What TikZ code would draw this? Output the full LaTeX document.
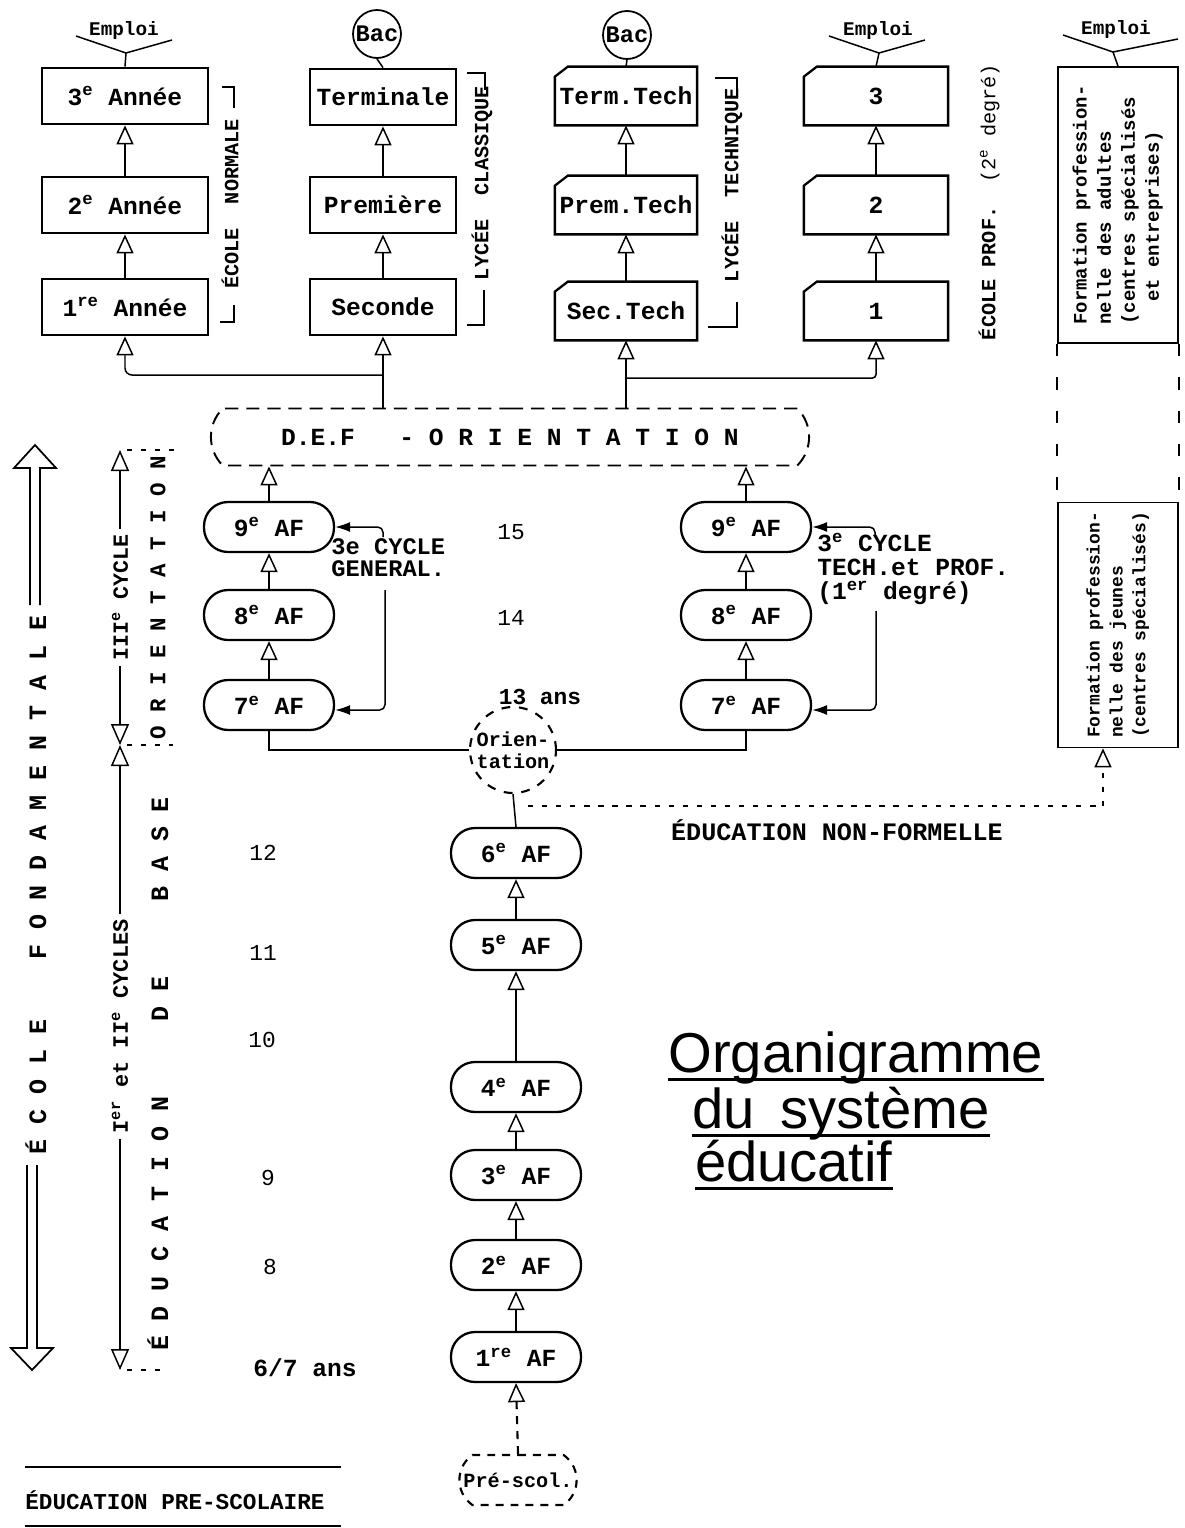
\documentclass[tikz,border=0pt]{standalone}
\usepackage{fontspec}
\setmainfont{Liberation Mono}
\newfontfamily\titlefont{Liberation Sans}
\usepackage{graphicx}
\usetikzlibrary{arrows.meta,shapes.misc,shapes.geometric}
\tikzset{
  yr/.style={draw, line width=1.3pt, minimum height=1.13cm, inner sep=1pt, font=\fontsize{14}{16}\selectfont},
  yrc/.style={yr, draw=none},
  af/.style={draw, line width=1.3pt, rounded corners=0.48cm, minimum width=2.6cm, minimum height=1cm, font=\fontsize{14}{16}\selectfont},
  bac/.style={circle, draw, line width=1pt, minimum size=0.96cm, inner sep=0pt, font=\fontsize{13.5}{15}\selectfont},
  tri/.style={line width=0.85pt, -{Triangle[open, length=0.38cm, width=0.34cm]}},
  tritwo/.style={line width=0.85pt, {Triangle[open, length=0.42cm, width=0.36cm]}-{Triangle[open, length=0.42cm, width=0.36cm]}},
  otip/.style={-{Triangle[open, length=0.38cm, width=0.34cm, line width=0.85pt]}},
  pnt/.style={line width=0.85pt, rounded corners=3pt, -{Latex[length=0.3cm, width=0.2cm]}},
  con/.style={line width=0.85pt},
  brk/.style={line width=1.3pt},
  dotl/.style={line width=1.3pt, dash pattern=on 3pt off 5pt},
  dashl/.style={line width=1.2pt, dash pattern=on 4.5pt off 4pt},
  longd/.style={line width=1pt, dash pattern=on 7pt off 12pt},
  vlbl/.style={rotate=90, font=\fontsize{11.5}{13}\selectfont},
  spc/.style={rotate=90, font=\fontsize{14.2}{16}\selectfont},
  emp/.style={font=\fontsize{11}{13}\selectfont},
  age/.style={font=\fontsize{13}{15}\selectfont},
  agr/.style={font=\mdseries\fontsize{13}{15}\selectfont},
  ttl/.style={anchor=base west, inner sep=0pt, font=\titlefont\mdseries\fontsize{32}{36}\selectfont},
}
\newcommand{\chamf}[1]{\draw[line width=1.3pt] ([xshift=0.26cm]#1.north west) -- (#1.north east) -- (#1.south east) -- (#1.south west) -- ([yshift=-0.2cm]#1.north west) -- cycle;}
\newcommand{\fork}[3]{\draw[con] (#1) -- (#2.north);
  \draw[con] (#1) ++(-50,-17) -- (#1) -- ++(#3,-13);}

\begin{document}
\begin{tikzpicture}[x=0.02cm, y=-0.02cm, execute at begin picture={\bfseries\frenchspacing}]
\useasboundingbox (0,0) rectangle (1184,1528);

% ecole normale / lycee classique
\node[yr, minimum width=3.32cm] (en3) at (125,96) {3\textsuperscript{e} Année};
\node[yr, minimum width=3.32cm] (en2) at (125,205) {2\textsuperscript{e} Année};
\node[yr, minimum width=3.32cm] (en1) at (125,307) {1\textsuperscript{re} Année};
\node[yr, minimum width=2.92cm] (term) at (383,97) {Terminale};
\node[yr, minimum width=2.92cm] (prem) at (383,205) {Première};
\node[yr, minimum width=2.92cm] (sec) at (383,307) {Seconde};

% lycee technique / ecole prof.
\node[yrc, minimum width=2.8cm] (ttech) at (626,96) {Term.Tech};
\node[yrc, minimum width=2.8cm] (ptech) at (626,205) {Prem.Tech};
\node[yrc, minimum width=2.8cm] (stech) at (626,311) {Sec.Tech};
\node[yrc, minimum width=2.84cm] (p3) at (876,96) {3};
\node[yrc, minimum width=2.84cm] (p2) at (876,205) {2};
\node[yrc, minimum width=2.84cm] (p1) at (876,311) {1};
\foreach \n in {ttech,ptech,stech,p3,p2,p1} {\chamf{\n}}

% formation professionnelle
\node[draw, line width=1pt, minimum width=2.4cm, minimum height=5.52cm, inner sep=0pt, font=\fontsize{10.8}{13.7}\selectfont] (adl) at (1118,205)
  {\rotatebox{90}{\begin{tabular}{@{}l@{}}Formation profession-\\nelle des adultes\\(centres spécialisés\\~~et entreprises)\end{tabular}}};
\node[draw, line width=1pt, minimum width=2.4cm, minimum height=4.9cm, inner sep=0pt, font=\fontsize{10.2}{13}\selectfont] (yth) at (1118,625)
  {\rotatebox{90}{\begin{tabular}{@{}l@{}}Formation profession-\\nelle des jeunes\\(centres spécialisés)\end{tabular}}};
\draw[longd] (adl.south west) -- (yth.north west);
\draw[longd] (adl.south east) -- (yth.north east);

% debouches
\node[bac] (bac1) at (377,34) {Bac};
\node[bac] (bac2) at (627,35) {Bac};
\draw[con] (bac1.south) -- (term.north);
\draw[con] (bac2.south) -- (ttech.north);
\node[emp] (emp1) at (124,31) {Emploi};
\node[emp] (emp2) at (878,31) {Emploi};
\node[emp] (emp3) at (1116,30) {Emploi};
\coordinate (f1) at (126,53);
\coordinate (f2) at (879,53);
\coordinate (f3) at (1113,52);
\fork{f1}{en3}{46}
\fork{f2}{p3}{46}
\fork{f3}{adl}{65}

% crochets
\draw[brk] (222,87) -- (234,87) -- (234,108);
\draw[brk] (234,305) -- (234,322) -- (220,322);
\node[vlbl] (lbn) at (230,204) {ÉCOLE~~NORMALE};
\draw[brk] (467,73) -- (485,73) -- (485,90);
\draw[brk] (484,290) -- (484,325) -- (467,325);
\node[vlbl] (lbc) at (482,183) {LYCÉE~~CLASSIQUE};
\draw[brk] (715,78) -- (737,78) -- (737,95);
\draw[brk] (737,302) -- (737,327) -- (708,327);
\node[vlbl] (lbt) at (732,185) {LYCÉE~~TECHNIQUE};
\node[vlbl] (lbp) at (989,202) {ÉCOLE PROF.~~{\mdseries(2\textsuperscript{e} degré)}};

% orientation
\node[draw, line width=1.1pt, dash pattern=on 7.5pt off 4.5pt, rounded rectangle, rounded rectangle arc length=90, minimum width=12.2cm, minimum height=1.14cm, font=\fontsize{14}{16}\selectfont] (def) at (510,437) {D.E.F~~~-~O~R~I~E~N~T~A~T~I~O~N};
\draw[tri] (sec.south |- def.north) -- (sec.south);
\coordinate (jl) at (383,375);
\draw[tri, rounded corners=4pt] (jl) -| (en1.south);
\draw[tri] (stech.south |- def.north) -- (stech.south);
\coordinate (jr) at (626,378);
\draw[tri, rounded corners=2pt] (jr) -| (p1.south);

% 3e cycle
\node[af] (g9) at (269,527) {9\textsuperscript{e} AF};
\node[af] (g8) at (269,615) {8\textsuperscript{e} AF};
\node[af] (g7) at (269,705) {7\textsuperscript{e} AF};
\node[af] (t9) at (746,527) {9\textsuperscript{e} AF};
\node[af] (t8) at (746,615) {8\textsuperscript{e} AF};
\node[af] (t7) at (746,705) {7\textsuperscript{e} AF};
\draw[tri] (g9.north) -- (g9.north |- def.south);
\draw[tri] (t9.north) -- (t9.north |- def.south);
\node[align=left, anchor=west, inner sep=0pt, font=\fontsize{13.5}{12.6}\selectfont] (cyg) at (331,558) {3e CYCLE\\GENERAL.};
\node[align=left, anchor=west, inner sep=0pt, font=\fontsize{14}{13.8}\selectfont] (cyt) at (817,569) {3\textsuperscript{e} CYCLE\\TECH.et PROF.\\(1\textsuperscript{er} degré)};
\coordinate (cg1) at (383,537);
\coordinate (cg2) at (385,590);
\coordinate (ct1) at (875,537);
\coordinate (ct2) at (876,611);
\draw[pnt] (cg1) |- (g9.east);
\draw[pnt] (cg2) |- ([yshift=-0.1cm]g7.east);
\draw[pnt] (ct1) |- (t9.east);
\draw[pnt] (ct2) |- ([yshift=-0.1cm]t7.east);

\node[circle, draw, line width=1.2pt, dash pattern=on 5pt off 5pt, minimum size=1.72cm, inner sep=0pt, align=center, font=\fontsize{11.5}{12.5}\selectfont] (ori) at (513,750) {Orien-\\tation};
\draw[con] (g7.south) |- (ori.west);
\draw[con] (t7.south) |- (ori.east);

% education de base
\node[af] (b6) at (516,853) {6\textsuperscript{e} AF};
\node[af] (b5) at (516,945) {5\textsuperscript{e} AF};
\node[af] (b4) at (516,1087) {4\textsuperscript{e} AF};
\node[af] (b3) at (516,1175) {3\textsuperscript{e} AF};
\node[af] (b2) at (516,1265) {2\textsuperscript{e} AF};
\node[af] (b1) at (516,1357) {1\textsuperscript{re} AF};
\draw[con] (ori.south) -- (b6.north);
\node[draw, dashl, rounded rectangle, rounded rectangle arc length=110, minimum width=2.58cm, minimum height=1cm, font=\fontsize{11.5}{13}\selectfont] (pre) at (518,1480) {Pré-scol.};
\draw[dashl, otip] (pre.north) -- (b1.south);

\foreach \lo/\hi in {en1/en2, en2/en3, sec/prem, prem/term, stech/ptech, ptech/ttech, p1/p2, p2/p3,
  g7/g8, g8/g9, t7/t8, t8/t9, b1/b2, b2/b3, b3/b4, b4/b5, b5/b6}
  \draw[tri] (\lo.north) -- (\hi.south);

% non-formelle
\coordinate (nf1) at (528,806);
\coordinate (nf2) at (1103,806);
\draw[dotl] (nf1) -- (nf2);
\draw[dotl, otip] (nf2) -- (nf2 |- yth.south);
\node[font=\fontsize{14.3}{16}\selectfont] (enf) at (837,830) {ÉDUCATION NON-FORMELLE};

% ages
\node[agr] (ag15) at (511,532) {15};
\node[agr] (ag14) at (511,618) {14};
\node[age] (ag13) at (540,697) {13 ans};
\node[agr] (ag12) at (263,853) {12};
\node[agr] (ag11) at (263,953) {11};
\node[agr] (ag10) at (262,1040) {10};
\node[agr] (ag9) at (268,1178) {9};
\node[agr] (ag8) at (270,1267) {8};
\node[age, font=\fontsize{14}{16}\selectfont] (ag67) at (305,1368) {6/7 ans};

% colonne de gauche
\draw[line width=1pt] (30,605) -- (30,468) -- (14,468) -- (35,445) -- (56,468) -- (40,468) -- (40,605);
\draw[line width=1pt] (27,1165) -- (27,1348) -- (11,1348) -- (32,1370) -- (53,1348) -- (37,1348) -- (37,1165);
\node[spc] (ecf) at (36,885) {É~C~O~L~E~~~~F~O~N~D~A~M~E~N~T~A~L~E};
\coordinate (c3a) at (120,450);
\coordinate (c3b) at (120,745);
\coordinate (c12b) at (120,1370);
\draw[tritwo] (c3a) -- (c3b) node[midway, rotate=90, fill=white, inner sep=3pt, font=\fontsize{12.3}{14}\selectfont] (c3l) {III\textsuperscript{e} CYCLE};
\draw[tritwo] (c3b) -- (c12b) node[pos=0.45, rotate=90, fill=white, inner sep=3pt, font=\fontsize{12.5}{14}\selectfont] (c12l) {I\textsuperscript{er} et II\textsuperscript{e} CYCLES};
\draw[dotl] ([xshift=4pt]c3a) -- ++(48,0);
\draw[dotl] ([xshift=4pt]c3b) -- ++(46,0);
\draw[dotl] ([xshift=4pt]c12b) -- ++(42,0);
\node[spc, font=\fontsize{12.8}{15}\selectfont] (orl) at (158,598) {O~R~I~E~N~T~A~T~I~O~N};
\node[spc] (edb) at (158,1074) {É~D~U~C~A~T~I~O~N~~~~~D~E~~~~~B~A~S~E};

% pre-scolaire
\node[anchor=west, inner sep=0pt, font=\fontsize{12.9}{15}\selectfont] (eps) at (25,1500) {ÉDUCATION PRE-SCOLAIRE};
\draw[brk] (25,1467) -- (341,1467);
\draw[brk] (25,1526) -- (341,1526);

% titre
\node[ttl] (ti1) at (668,1072) {Organigramme};
\node[ttl] (ti2) at (692,1128) {du\hspace{0.45em}système};
\node[ttl] (ti3) at (695,1181) {éducatif};
\foreach \t in {ti1,ti2,ti3}
  \draw[line width=1.6pt] ([yshift=-4.3pt]\t.base west) -- ([yshift=-4.3pt]\t.base east);

\end{tikzpicture}
\end{document}
